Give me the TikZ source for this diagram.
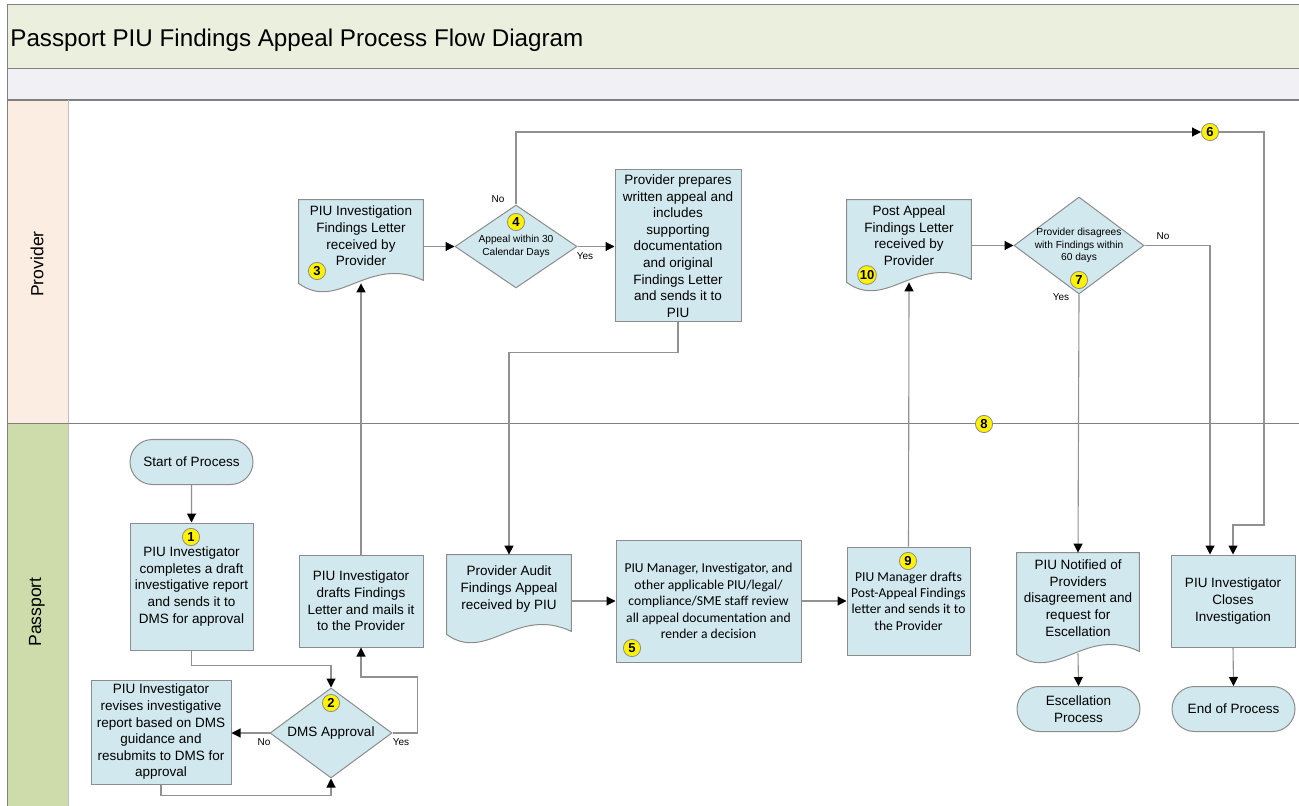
\documentclass[tikz,border=0pt]{standalone}
\usepackage{fontspec}
\setmainfont{Liberation Sans}
\newfontfamily\calfont{Carlito}
\usetikzlibrary{shapes,arrows.meta,calc}

\definecolor{titlegreen}{RGB}{235,239,222}
\definecolor{bandgray}{RGB}{240,240,245}
\definecolor{provpeach}{RGB}{252,237,227}
\definecolor{passgreen}{RGB}{206,219,170}
\definecolor{boxblue}{RGB}{209,232,238}
\definecolor{edgegray}{RGB}{140,140,140}
\definecolor{linegray}{RGB}{145,145,145}

\pgfdeclarelayer{lanes}
\pgfdeclarelayer{shapes}
\pgfsetlayers{lanes,shapes,main}

\tikzset{
  bodyfont/.style={font=\fontsize{6.75}{8.3}\selectfont},
  procbox/.style={rectangle, draw=edgegray, fill=boxblue, line width=0.5pt, inner sep=0pt, align=center, bodyfont},
  termbox/.style={rounded rectangle, draw=edgegray, fill=boxblue, line width=0.5pt, inner sep=0pt,
    minimum width=61.5pt, minimum height=22.5pt, align=center, bodyfont},
  decision/.style={diamond, aspect=1.4, draw=edgegray, fill=boxblue, line width=0.5pt, inner sep=-3pt, align=center,
    font=\fontsize{5.1}{6.2}\selectfont},
  docbox/.style={rectangle, inner sep=0pt, minimum width=62pt, align=center, bodyfont},
  docedge/.style={draw=edgegray, fill=boxblue, line width=0.5pt},
  badge/.style={circle, fill=yellow, draw=edgegray, line width=0.4pt, inner sep=0pt, minimum size=8.6pt,
    font=\bfseries\fontsize{6.5}{7}\selectfont},
  flow/.style={draw=linegray, line width=0.55pt, -{Triangle[length=4.5pt,width=4.5pt,color=black]}},
  tag/.style={font=\fontsize{5}{6}\selectfont, inner sep=0pt},
  lanerule/.style={draw=gray, line width=0.5pt},
}

\newcommand{\docoutline}[1]{%
  \begin{pgfonlayer}{shapes}
  \draw[docedge] (#1.north west) -- ($(#1.south west)+(0,11)$)
    .. controls ($(#1.south west)+(40,40)$) and ($(#1.south east)+(-55,-18)$) .. ($(#1.south east)+(0,8)$)
    -- (#1.north east) -- cycle;
  \end{pgfonlayer}}

\begin{document}
\begin{tikzpicture}[x=0.5pt,y=-0.5pt]
\useasboundingbox (0,0) rectangle (1299,806);

\begin{pgfonlayer}{lanes}
\fill[titlegreen] (7,5) rectangle (1305,69);
\fill[bandgray] (7,69) rectangle (1305,100);
\fill[provpeach] (7,100) rectangle (68,424);
\fill[passgreen] (7,424) rectangle (68,812);
\draw[lanerule] (1305,5) -- (7,5) -- (7,812);
\draw[lanerule] (7,69) -- (1305,69);
\draw[lanerule, line width=0.8pt] (7,100) -- (1305,100);
\draw[lanerule, draw=lightgray] (68,100) -- (68,812);
\draw[lanerule] (7,424) -- (1305,424);
\end{pgfonlayer}

\node[anchor=west, inner sep=0pt, font=\fontsize{12.1}{14}\selectfont] (title) at (10,40)
  {Passport PIU Findings Appeal Process Flow Diagram};
\node[rotate=90, font=\fontsize{8.8}{10}\selectfont] (provlane) at (37,264) {Provider};
\node[rotate=90, font=\fontsize{8.8}{10}\selectfont] (passlane) at (37,612) {Passport};

% Passport lane
\node[termbox] (start) at (191.5,462) {Start of Process};
\node[procbox, minimum width=61.5pt, minimum height=63.5pt] (report) at (191.5,586.5)
  {PIU Investigator\\completes a draft\\investigative report\\and sends it to\\DMS for approval};
\node[procbox, minimum width=70pt, minimum height=52pt] (revise) at (161,732)
  {PIU Investigator\\revises investigative\\report based on DMS\\guidance and\\resubmits to DMS for\\approval};
\node[decision, minimum width=61pt, minimum height=45pt, bodyfont] (dms) at (331,733) {DMS Approval};
\node[procbox, minimum width=62pt, minimum height=46pt] (drafts) at (361,601)
  {PIU Investigator\\drafts Findings\\Letter and mails it\\to the Provider};
\node[docbox, minimum height=34pt] (auditdoc) at (509,589)
  {Provider Audit\\Findings Appeal\\received by PIU};
\node[procbox, minimum width=92.5pt, minimum height=61pt, font=\calfont\fontsize{6.8}{8.2}\selectfont] (review) at (708.5,601)
  {PIU Manager, Investigator, and\\other applicable PIU/legal/\\compliance/SME staff review\\all appeal documentation and\\render a decision};
\node[procbox, minimum width=61.5pt, minimum height=54pt, font=\calfont\fontsize{6.8}{8.2}\selectfont, text depth=-14pt] (postdraft) at (908.5,601)
  {PIU Manager drafts\\Post-Appeal Findings\\letter and sends it to\\the Provider};
\node[docbox, minimum width=61pt, minimum height=45pt] (notified) at (1078,598)
  {PIU Notified of\\Providers\\disagreement and\\request for\\Escellation};
\node[procbox, minimum width=62pt, minimum height=46pt] (closes) at (1233,601)
  {PIU Investigator\\Closes\\Investigation};
\node[termbox] (escproc) at (1078.5,709) {Escellation\\Process};
\node[termbox] (endproc) at (1233.5,709) {End of Process};

% Provider lane
\node[docbox, minimum height=36pt] (letter) at (361,236)
  {PIU Investigation\\Findings Letter\\received by\\Provider};
\node[decision, minimum width=61pt, minimum height=41.5pt] (appeal) at (516,246.5)
  {Appeal within 30\\Calendar Days};
\node[procbox, minimum width=63pt, minimum height=76pt] (prepares) at (678,246)
  {Provider prepares\\written appeal and\\includes\\supporting\\documentation\\and original\\Findings Letter\\and sends it to\\PIU};
\node[docbox, minimum height=35.5pt] (postletter) at (909,235.5)
  {Post Appeal\\Findings Letter\\received by\\Provider};
\node[decision, minimum width=65pt, minimum height=48.5pt] (disagree) at (1079,245.5)
  {Provider disagrees\\with Findings within\\60 days};

\docoutline{letter}
\docoutline{auditdoc}
\docoutline{postletter}
\docoutline{notified}

% step numbers
\node[badge] (b1) at (191,537) {1};
\node[badge] (b2) at (331,703) {2};
\node[badge] (b3) at (317,271) {3};
\node[badge] (b4) at (516,222) {4};
\node[badge] (b5) at (632,648) {5};
\node[badge] (b6) at (1210,132) {6};
\node[badge] (b7) at (1079,280) {7};
\node[badge] (b8) at (984,424) {8};
\node[badge] (b9) at (908,561) {9};
\node[badge, minimum size=9.4pt] (b10) at (867,275) {10};

\coordinate (bend6) at (1264,525);

\draw[flow] (start) -- (report);
\draw[flow] (report.south) -- ++(0,15) -| (dms.north);
\draw[flow] (dms.west) -- (revise.east |- dms.west);
\draw[flow] (revise.south) -- ++(0,11) -| (dms.south);
\draw[flow] (dms.east) -| ++(25,-56) -| (drafts.south);
\draw[flow] (drafts.north) -- ($(letter.south)+(0,11)$);
\draw[flow] (appeal.west -| letter.east) -- (appeal.west);
\draw[flow] (appeal.east) -- (prepares.west |- appeal.east);
\draw[flow] (appeal.north) |- (b6.west);
\draw[flow] (b6.east) -| (bend6) -| (closes.north);
\draw[flow] (prepares.south) -- ++(0,30) -| (auditdoc.north);
\draw[flow] (review.west -| auditdoc.east) -- (review.west);
\draw[flow] (review.east) -- (postdraft.west);
\draw[flow] (postdraft.north) -- ($(postletter.south)+(0,11)$);
\draw[flow] (disagree.west -| postletter.east) -- (disagree.west);
\draw[flow] (disagree.east) -| ($(closes.north)+(-23,0)$);
\draw[flow] (disagree.south) -- (notified.north);
\draw[flow] ($(notified.south)+(0,10)$) -- (escproc.north);
\draw[flow] (closes.south) -- (endproc.north);

\node[tag] (dmsno) at (264,742) {No};
\node[tag] (dmsyes) at (401,742) {Yes};
\node[tag] (appealno) at (498,199) {No};
\node[tag] (appealyes) at (585,256) {Yes};
\node[tag] (disagreeno) at (1163,236) {No};
\node[tag] (disagreeyes) at (1061,297) {Yes};
\end{tikzpicture}
\end{document}
